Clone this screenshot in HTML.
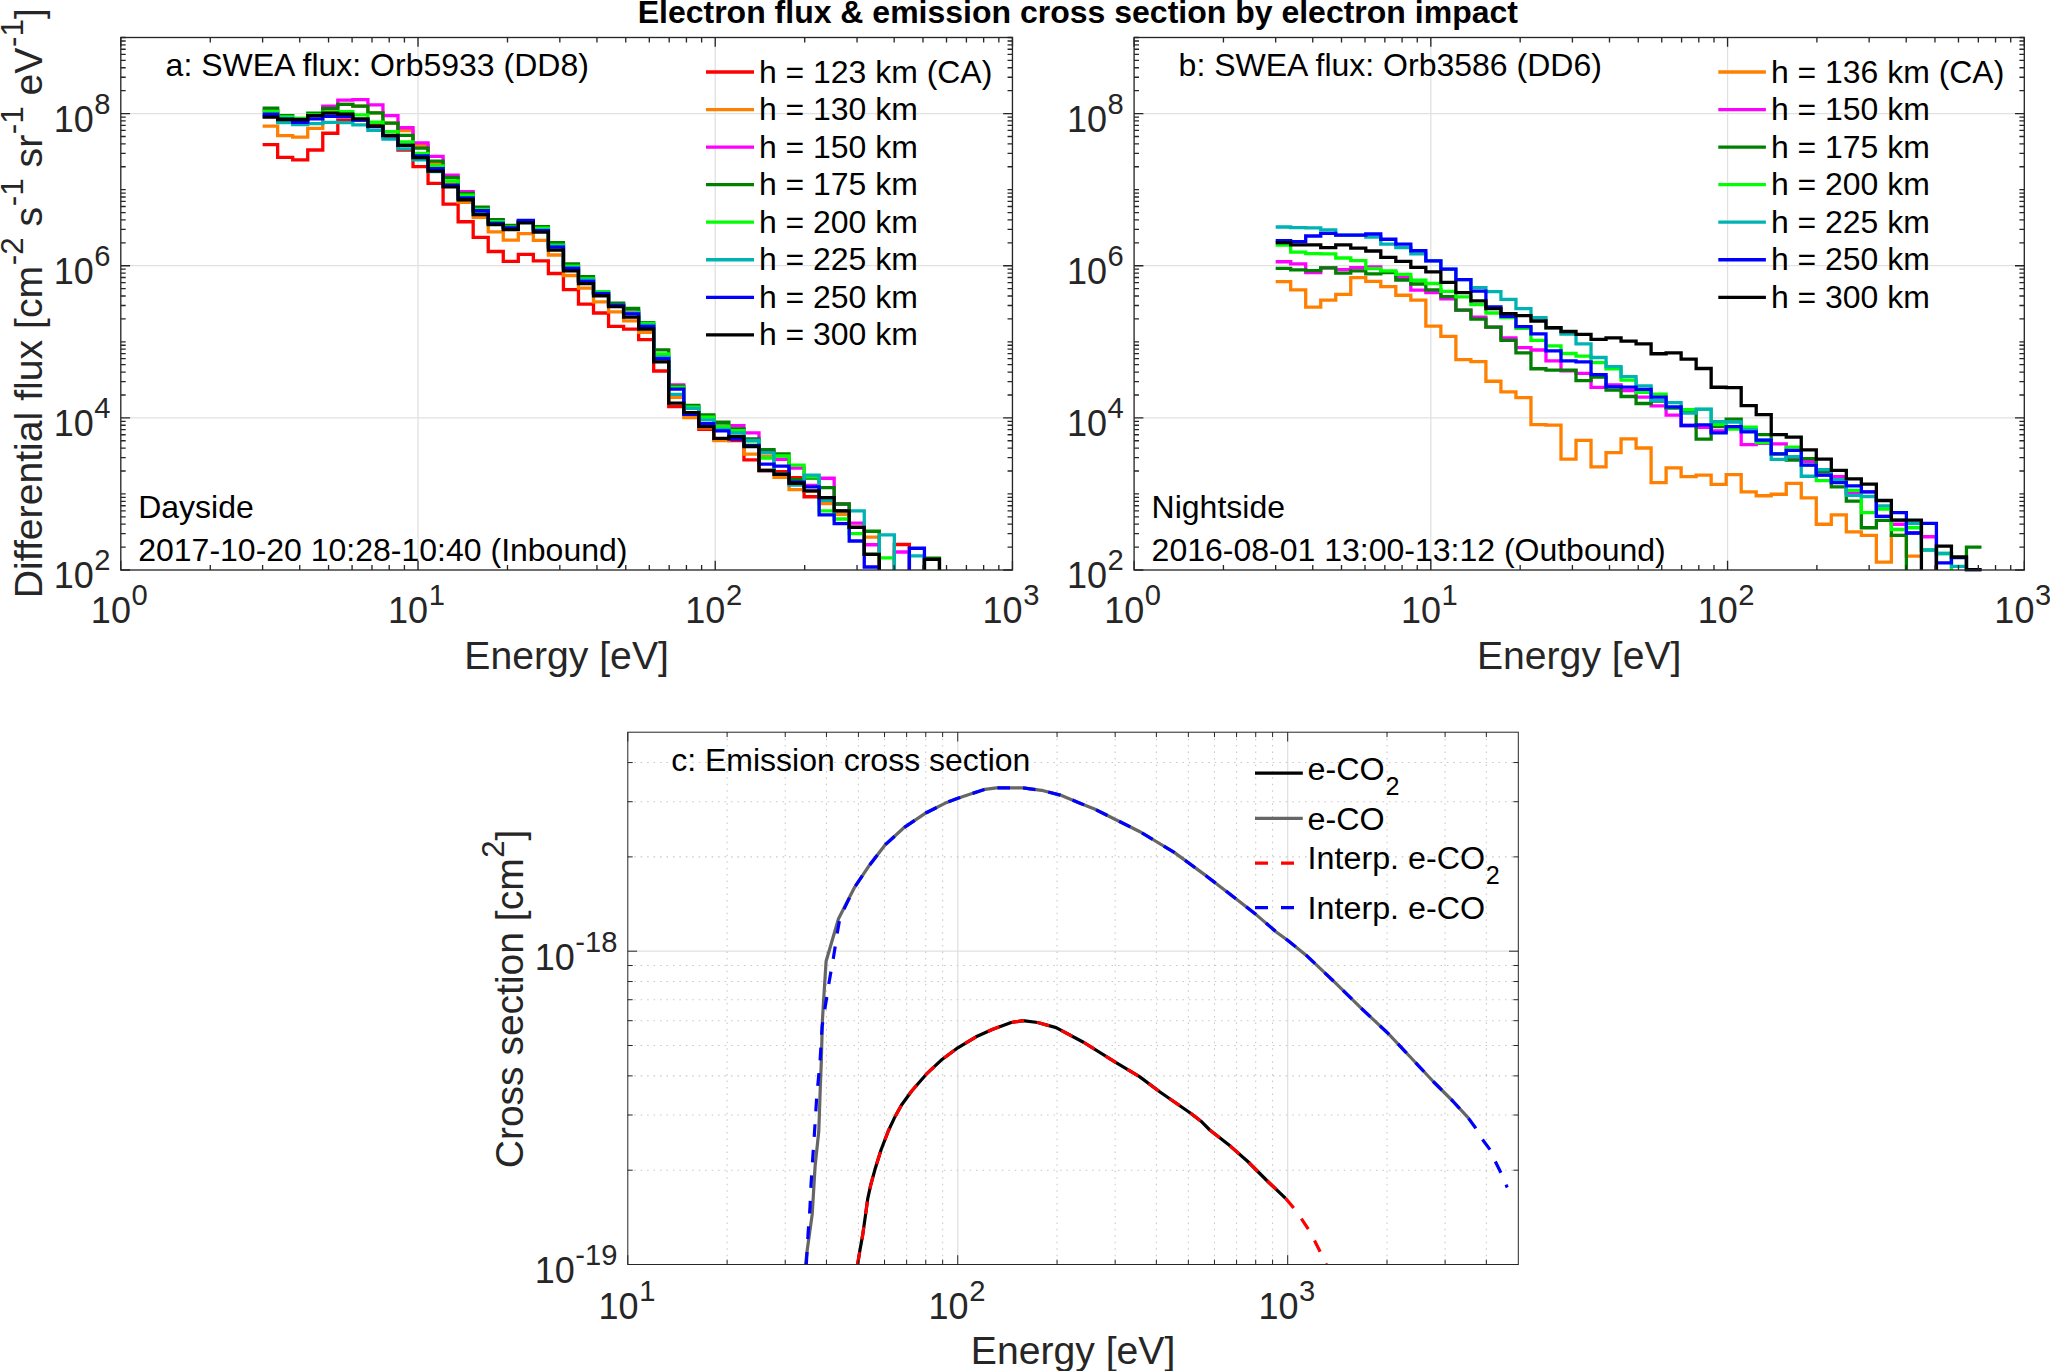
<!DOCTYPE html>
<html lang="en"><head><meta charset="utf-8"><title>Electron flux &amp; emission cross section by electron impact</title>
<style>html,body{margin:0;padding:0;background:#fff;overflow:hidden}svg{display:block;font-family:'Liberation Sans', Arial, Helvetica, sans-serif}</style></head><body>
<svg width="2050" height="1371" viewBox="0 0 2050 1371">
<rect width="2050" height="1371" fill="#fff"/>
<defs>
<clipPath id="clipA"><rect x="120.8" y="37.5" width="891.65" height="533"/></clipPath>
<clipPath id="clipB"><rect x="1134.1" y="37.5" width="890.2" height="533"/></clipPath>
<clipPath id="clipC"><rect x="627.8" y="732.2" width="890.5" height="532.8"/></clipPath>
</defs>
<text x="1077.8" y="22.6" font-size="32" text-anchor="middle" fill="#000" font-weight="bold">Electron flux &amp; emission cross section by electron impact</text>
<path d="M418.02 37.5V570M715.23 37.5V570M120.8 417.86H1012.45M120.8 265.71H1012.45M120.8 113.57H1012.45" stroke="#e1e1e1" stroke-width="1.3" fill="none"/>
<path d="M262.61 144.71H277.65V157.35H292.69V159.93H307.73V149.98H322.77V133.23H337.81V120.12H352.86V120.12H367.9V124.8H382.94V136.51H397.98V149.98H413.02V166.72H428.06V183.34H443.1V204.18H458.14V221.74H473.18V237.46H488.23V251.51H503.27V261.46H518.31V254.44H533.35V260.88H548.39V273.52H563.43V289.56H578.47V304.2H593.51V312.98H608.56V326.44H623.6V329.13H638.64V339.55H653.68V370.98H668.72V406.68H683.76V414.29H698.8V429.28H713.84V439.46H728.88V440.63H743.93V459.95H758.97V470.49H774.01V471.56H789.05V477.77H804.09V496.73H819.13V497.67H834.17V510.78H849.21V527.4H864.26V554.33H879.3V570M894.34 570V544.5H909.38V570" stroke="#ff0000" stroke-width="3.3" fill="none" stroke-linejoin="miter"/>
<path d="M262.61 126.21H277.65V135.58H292.69V137.1H307.73V128.32H322.77V110.17H337.81V104.32H352.86V106.07H367.9V112.86H382.94V123.05H397.98V130.66H413.02V145.64H428.06V163.67H443.1V183.93H458.14V202.42H473.18V217.33H488.23V231.84H503.27V240.04H518.31V233.72H533.35V240.39H548.39V255.02H563.43V275.51H578.47V288.04H593.51V301.85H608.56V311.8H623.6V320.94H638.64V332.29H653.68V361.02H668.72V397.32H683.76V417.57H698.8V427.76H713.84V440.63H728.88V438.29H743.93V454.1H758.97V456.44H774.01V477.41H789.05V489.71H804.09V491.46H819.13V503.52H834.17V514.29H849.21V527.4H864.26V537.12H879.3V570" stroke="#ff8000" stroke-width="3.3" fill="none" stroke-linejoin="miter"/>
<path d="M262.61 110.17H277.65V120.12H292.69V121.29H307.73V115.44H322.77V106.07H337.81V100.22H352.86V99.63H367.9V104.9H382.94V115.67H397.98V127.73H413.02V142.95H428.06V156.41H443.1V175.15H458.14V191.54H473.18V208.78H488.23V221.07H503.27V226.69H518.31V221.66H533.35V228.1H548.39V244.49H563.43V265.56H578.47V279.61H593.51V292.49H608.56V304.2H623.6V311.22H638.64V324.1H653.68V356.34H668.72V384.79H683.76V406.68H698.8V416.63H713.84V425.41H728.88V425.77H743.93V432.79H758.97V451.76H774.01V459.27H789.05V468.05H804.09V485.49H819.13V478.23H834.17V503.99H849.21V523.07H864.26V544.73H879.3V570M894.34 570V551.99H909.38V570" stroke="#ff00ff" stroke-width="3.3" fill="none" stroke-linejoin="miter"/>
<path d="M262.61 108.18H277.65V115.67H292.69V118.37H307.73V113.1H322.77V108.41H337.81V104.32H352.86V106.07H367.9V112.86H382.94V123.05H397.98V135.34H413.02V148.22H428.06V161.1H443.1V177.49H458.14V193.29H473.18V207.26H488.23V219.67H503.27V225.52H518.31V221.66H533.35V226.69H548.39V242.73H563.43V263.8H578.47V276.68H593.51V292.49H608.56V303.26H623.6V308.29H638.64V322.69H653.68V349.9H668.72V386.2H683.76V405.51H698.8V414.88H713.84V422.25H728.88V428.93H743.93V438.88H758.97V449.65H774.01V454H789.05V479.76H804.09V478H819.13V487.6H834.17V503.99H849.21V527.4H864.26V531.27H879.3V570M924.42 570V558.2H939.46V570" stroke="#008000" stroke-width="3.3" fill="none" stroke-linejoin="miter"/>
<path d="M262.61 111.34H277.65V116.84H292.69V118.95H307.73V114.85H322.77V112.16H337.81V111.69H352.86V114.85H367.9V122.23H382.94V131.6H397.98V142.01H413.02V153.49H428.06V165.78H443.1V181H458.14V195.05H473.18V209.37H488.23V221.66H503.27V227.16H518.31V222.01H533.35V228.1H548.39V245.07H563.43V266.15H578.47V279.02H593.51V291.55H608.56V304.78H623.6V312.39H638.64V323.51H653.68V354H668.72V387.37H683.76V407.27H698.8V417.22H713.84V426.23H728.88V430.68H743.93V441.22H758.97V458.2H774.01V455.99H789.05V465.12H804.09V476.83H819.13V510.78H834.17V518.98H849.21V533.61H864.26V554.33H879.3V557.84H894.34V570" stroke="#00ff00" stroke-width="3.3" fill="none" stroke-linejoin="miter"/>
<path d="M262.61 116.02H277.65V122.7H292.69V124.57H307.73V123.63H322.77V122.46H337.81V122.7H352.86V124.8H367.9V130.42H382.94V139.09H397.98V148.8H413.02V159.93H428.06V171.63H443.1V185.92H458.14V198.8H473.18V211.71H488.23V222.83H503.27V227.63H518.31V221.31H533.35V229.85H548.39V246.24H563.43V267.32H578.47V279.84H593.51V293.07H608.56V305.37H623.6V313.33H638.64V325.27H653.68V357.51H668.72V394.39H683.76V408.44H698.8V419.91H713.84V429.51H728.88V433.02H743.93V440.28H758.97V452.93H774.01V473.9H789.05V485.02H804.09V475.07H819.13V500.24H834.17V510.78H849.21V510.78H864.26V554.33H879.3V534.78H894.34V570M909.38 570V555.85H924.42V570" stroke="#00b3b3" stroke-width="3.3" fill="none" stroke-linejoin="miter"/>
<path d="M262.61 114.27H277.65V118.95H292.69V122.23H307.73V118.95H322.77V116.38H337.81V116.61H352.86V120.12H367.9V126.56H382.94V135.58H397.98V145.29H413.02V155.83H428.06V168.71H443.1V185.1H458.14V197.98H473.18V210.77H488.23V223.41H503.27V227.86H518.31V220.49H533.35V230.67H548.39V247.06H563.43V268.49H578.47V281.37H593.51V293.66H608.56V305.13H623.6V313.8H638.64V326.44H653.68V358.68H668.72V389.12H683.76V414.29H698.8V423.66H713.84V430.92H728.88V439.11H743.93V445.32H758.97V464.05H774.01V466.06H789.05V482.1H804.09V486.78H819.13V514.88H834.17V523.66H849.21V540.99H864.26V566.98H879.3V570M909.38 570V548.24H924.42V570" stroke="#0000ff" stroke-width="3.3" fill="none" stroke-linejoin="miter"/>
<path d="M262.61 117.2H277.65V119.54H292.69V119.54H307.73V115.67H322.77V113.1H337.81V114.03H352.86V118.95H367.9V126.21H382.94V135.34H397.98V145.29H413.02V157.59H428.06V171.05H443.1V186.85H458.14V199.73H473.18V214.63H488.23V224.59H503.27V229.5H518.31V222.83H533.35V232.2H548.39V250.11H563.43V270.83H578.47V283.71H593.51V295.77H608.56V306.54H623.6V317.07H638.64V329.01H653.68V361.84H668.72V403.17H683.76V412.54H698.8V426.59H713.84V438.29H728.88V436.54H743.93V446.49H758.97V470.49H774.01V474.25H789.05V483.27H804.09V490.88H819.13V497.67H834.17V510.78H849.21V527.4H864.26V554.33H879.3V570M924.42 570V559.37H939.46V570" stroke="#000000" stroke-width="3.3" fill="none" stroke-linejoin="miter"/>
<path d="M210.27 570v-4.9M210.27 37.5v4.9M262.61 570v-4.9M262.61 37.5v4.9M299.74 570v-4.9M299.74 37.5v4.9M328.55 570v-4.9M328.55 37.5v4.9M352.08 570v-4.9M352.08 37.5v4.9M371.98 570v-4.9M371.98 37.5v4.9M389.21 570v-4.9M389.21 37.5v4.9M404.42 570v-4.9M404.42 37.5v4.9M507.49 570v-4.9M507.49 37.5v4.9M559.83 570v-4.9M559.83 37.5v4.9M596.96 570v-4.9M596.96 37.5v4.9M625.76 570v-4.9M625.76 37.5v4.9M649.3 570v-4.9M649.3 37.5v4.9M669.19 570v-4.9M669.19 37.5v4.9M686.43 570v-4.9M686.43 37.5v4.9M701.63 570v-4.9M701.63 37.5v4.9M804.7 570v-4.9M804.7 37.5v4.9M857.04 570v-4.9M857.04 37.5v4.9M894.18 570v-4.9M894.18 37.5v4.9M922.98 570v-4.9M922.98 37.5v4.9M946.51 570v-4.9M946.51 37.5v4.9M966.41 570v-4.9M966.41 37.5v4.9M983.65 570v-4.9M983.65 37.5v4.9M998.85 570v-4.9M998.85 37.5v4.9M120.8 547.1h4.9M1012.45 547.1h-4.9M120.8 533.7h4.9M1012.45 533.7h-4.9M120.8 524.2h4.9M1012.45 524.2h-4.9M120.8 516.83h4.9M1012.45 516.83h-4.9M120.8 510.8h4.9M1012.45 510.8h-4.9M120.8 505.71h4.9M1012.45 505.71h-4.9M120.8 501.3h4.9M1012.45 501.3h-4.9M120.8 497.41h4.9M1012.45 497.41h-4.9M120.8 471.03h4.9M1012.45 471.03h-4.9M120.8 457.63h4.9M1012.45 457.63h-4.9M120.8 448.13h4.9M1012.45 448.13h-4.9M120.8 440.76h4.9M1012.45 440.76h-4.9M120.8 434.73h4.9M1012.45 434.73h-4.9M120.8 429.64h4.9M1012.45 429.64h-4.9M120.8 425.23h4.9M1012.45 425.23h-4.9M120.8 421.34h4.9M1012.45 421.34h-4.9M120.8 394.96h4.9M1012.45 394.96h-4.9M120.8 381.56h4.9M1012.45 381.56h-4.9M120.8 372.06h4.9M1012.45 372.06h-4.9M120.8 364.69h4.9M1012.45 364.69h-4.9M120.8 358.66h4.9M1012.45 358.66h-4.9M120.8 353.57h4.9M1012.45 353.57h-4.9M120.8 349.16h4.9M1012.45 349.16h-4.9M120.8 345.27h4.9M1012.45 345.27h-4.9M120.8 318.89h4.9M1012.45 318.89h-4.9M120.8 305.49h4.9M1012.45 305.49h-4.9M120.8 295.99h4.9M1012.45 295.99h-4.9M120.8 288.61h4.9M1012.45 288.61h-4.9M120.8 282.59h4.9M1012.45 282.59h-4.9M120.8 277.5h4.9M1012.45 277.5h-4.9M120.8 273.09h4.9M1012.45 273.09h-4.9M120.8 269.2h4.9M1012.45 269.2h-4.9M120.8 242.81h4.9M1012.45 242.81h-4.9M120.8 229.42h4.9M1012.45 229.42h-4.9M120.8 219.91h4.9M1012.45 219.91h-4.9M120.8 212.54h4.9M1012.45 212.54h-4.9M120.8 206.52h4.9M1012.45 206.52h-4.9M120.8 201.43h4.9M1012.45 201.43h-4.9M120.8 197.01h4.9M1012.45 197.01h-4.9M120.8 193.12h4.9M1012.45 193.12h-4.9M120.8 166.74h4.9M1012.45 166.74h-4.9M120.8 153.35h4.9M1012.45 153.35h-4.9M120.8 143.84h4.9M1012.45 143.84h-4.9M120.8 136.47h4.9M1012.45 136.47h-4.9M120.8 130.45h4.9M1012.45 130.45h-4.9M120.8 125.36h4.9M1012.45 125.36h-4.9M120.8 120.94h4.9M1012.45 120.94h-4.9M120.8 117.05h4.9M1012.45 117.05h-4.9M120.8 90.67h4.9M1012.45 90.67h-4.9M120.8 77.28h4.9M1012.45 77.28h-4.9M120.8 67.77h4.9M1012.45 67.77h-4.9M120.8 60.4h4.9M1012.45 60.4h-4.9M120.8 54.38h4.9M1012.45 54.38h-4.9M120.8 49.28h4.9M1012.45 49.28h-4.9M120.8 44.87h4.9M1012.45 44.87h-4.9M120.8 40.98h4.9M1012.45 40.98h-4.9M120.8 493.93h4.9M1012.45 493.93h-4.9M120.8 341.79h4.9M1012.45 341.79h-4.9M120.8 189.64h4.9M1012.45 189.64h-4.9M120.8 37.5h4.9M1012.45 37.5h-4.9" stroke="#262626" stroke-width="1.33" fill="none"/>
<path d="M120.8 570v-9.3M120.8 37.5v9.3M418.02 570v-9.3M418.02 37.5v9.3M715.23 570v-9.3M715.23 37.5v9.3M1012.45 570v-9.3M1012.45 37.5v9.3M120.8 570h9.3M1012.45 570h-9.3M120.8 417.86h9.3M1012.45 417.86h-9.3M120.8 265.71h9.3M1012.45 265.71h-9.3M120.8 113.57h9.3M1012.45 113.57h-9.3" stroke="#262626" stroke-width="1.33" fill="none"/>
<rect x="120.8" y="37.5" width="891.65" height="532.5" stroke="#262626" stroke-width="1.33" fill="none"/>
<text x="119.3" y="623.2" font-size="36" text-anchor="middle" fill="#262626">10<tspan font-size="29.16" dx="0.6" dy="-18">0</tspan></text>
<text x="416.52" y="623.2" font-size="36" text-anchor="middle" fill="#262626">10<tspan font-size="29.16" dx="0.6" dy="-18">1</tspan></text>
<text x="713.73" y="623.2" font-size="36" text-anchor="middle" fill="#262626">10<tspan font-size="29.16" dx="0.6" dy="-18">2</tspan></text>
<text x="1010.95" y="623.2" font-size="36" text-anchor="middle" fill="#262626">10<tspan font-size="29.16" dx="0.6" dy="-18">3</tspan></text>
<text x="110.5" y="588.4" font-size="36" text-anchor="end" fill="#262626">10<tspan font-size="29.16" dx="0.6" dy="-18">2</tspan></text>
<text x="110.5" y="436.26" font-size="36" text-anchor="end" fill="#262626">10<tspan font-size="29.16" dx="0.6" dy="-18">4</tspan></text>
<text x="110.5" y="284.11" font-size="36" text-anchor="end" fill="#262626">10<tspan font-size="29.16" dx="0.6" dy="-18">6</tspan></text>
<text x="110.5" y="131.97" font-size="36" text-anchor="end" fill="#262626">10<tspan font-size="29.16" dx="0.6" dy="-18">8</tspan></text>
<text x="566.62" y="668.5" font-size="39.15" text-anchor="middle" fill="#262626">Energy [eV]</text>
<path d="M1430.83 37.5V570M1727.57 37.5V570M1134.1 417.86H2024.3M1134.1 265.71H2024.3M1134.1 113.57H2024.3" stroke="#e1e1e1" stroke-width="1.3" fill="none"/>
<path d="M1275.68 281.65H1290.69V289.84H1305.71V307.17H1320.73V300.15H1335.74V294.29H1350.76V277.67H1365.78V281.41H1380.79V286.68H1395.81V295.23H1410.83V300.15H1425.84V326.14H1440.86V336.44H1455.88V359.62H1470.9V361.72H1485.91V381.27H1500.93V391.8H1515.95V397.66H1530.96V424.59H1545.98V425.17H1561V459.12H1576.01V440.39H1591.03V466.97H1606.05V452.68H1621.06V438.87H1636.08V448H1651.1V482.54H1666.11V467.9H1681.13V476.68H1696.15V475.16H1711.16V484.29H1726.18V474.68H1741.2V491.89H1756.21V495.76H1771.23V494.23H1786.25V483.46H1801.26V497.9H1816.28V524.24H1831.3V514.88H1846.31V531.85H1861.33V535.37H1876.35V562.06H1891.36V535.37H1906.38V556.2H1921.4V556.2" stroke="#ff8000" stroke-width="3.3" fill="none" stroke-linejoin="miter"/>
<path d="M1275.68 261.75H1290.69V263.85H1305.71V272.63H1320.73V267.95H1335.74V269.71H1350.76V267.6H1365.78V266.78H1380.79V272.05H1395.81V277.67H1410.83V290.2H1425.84V292.54H1440.86V298.74H1455.88V310.1H1470.9V317.23H1485.91V327.06H1500.93V337.95H1515.95V347.67H1530.96V350.01H1545.98V360.78H1561V370.73H1576.01V373.42H1591.03V387.47H1606.05V384.78H1621.06V390.63H1636.08V397.07H1651.1V405.85H1666.11V415.22H1681.13V425.51H1696.15V427.27H1711.16V431.01H1726.18V426.68H1741.2V444.6H1756.21V443.42H1771.23V443.89H1786.25V458.29H1801.26V461.38H1816.28V475.07H1831.3V476.6H1846.31V492.99H1861.33V491.81H1876.35V516.4H1891.36V524.24H1906.38V533.02H1921.4V536.77H1936.41V570" stroke="#ff00ff" stroke-width="3.3" fill="none" stroke-linejoin="miter"/>
<path d="M1275.68 268.3H1290.69V269.94H1305.71V270.64H1320.73V267.95H1335.74V273.22H1350.76V270.88H1365.78V273.8H1380.79V272.63H1395.81V280.01H1410.83V283.99H1425.84V289.84H1440.86V296.63H1455.88V310.1H1470.9V319.22H1485.91V327.06H1500.93V340.29H1515.95V352.82H1530.96V368.74H1545.98V370.15H1561V370.15H1576.01V380.68H1591.03V377.17H1606.05V390.05H1621.06V396.49H1636.08V403.51H1651.1V401.17H1666.11V408.2H1681.13V412.05H1696.15V439.21H1711.16V426.68H1726.18V419.07H1741.2V429.61H1756.21V434.53H1771.23V453.96H1786.25V460.05H1801.26V458.68H1816.28V471.56H1831.3V486.78H1846.31V501.18H1861.33V527.76H1876.35V520.38H1891.36V535.37H1906.38V570M1966.45 570V547.07H1981.46V547.07" stroke="#008000" stroke-width="3.3" fill="none" stroke-linejoin="miter"/>
<path d="M1275.68 245.12H1290.69V252.15H1305.71V253.55H1320.73V253.9H1335.74V258H1350.76V260.58H1365.78V268.54H1380.79V270.88H1395.81V274.39H1410.83V280.24H1425.84V283.52H1440.86V291.37H1455.88V296.87H1470.9V304.59H1485.91V313.01H1500.93V317.7H1515.95V328.23H1530.96V340.29H1545.98V345.8H1561V353.52H1576.01V356.1H1591.03V362.54H1606.05V368.74H1621.06V380.1H1636.08V392.39H1651.1V394.15H1666.11V407.61H1681.13V409.71H1696.15V409.47H1711.16V424.34H1726.18V429.02H1741.2V427.27H1756.21V442.49H1771.23V453.96H1786.25V447.17H1801.26V465.12H1816.28V480.58H1831.3V481.51H1846.31V490.29H1861.33V512.54H1876.35V509.02H1891.36V529.51H1906.38V527.76H1921.4V550H1936.41V553.51H1951.43V570" stroke="#00ff00" stroke-width="3.3" fill="none" stroke-linejoin="miter"/>
<path d="M1275.68 226.98H1290.69V227.56H1305.71V227.8H1320.73V229.9H1335.74V235.17H1350.76V235.17H1365.78V237.16H1380.79V244.19H1395.81V247.7H1410.83V253.9H1425.84V260.93H1440.86V269.12H1455.88V279.66H1470.9V287.61H1485.91V291.71H1500.93V299.32H1515.95V308.68H1530.96V317.7H1545.98V327.77H1561V334.09H1576.01V343.8H1591.03V357.5H1606.05V366.63H1621.06V376.59H1636.08V385.95H1651.1V400.59H1666.11V402.69H1681.13V413.22H1696.15V409.12H1711.16V421.65H1726.18V422H1741.2V429.61H1756.21V440.15H1771.23V459.46H1786.25V456.54H1801.26V476.24H1816.28V469.57H1831.3V479.76H1846.31V495.33H1861.33V496.5H1876.35V505.86H1891.36V520.15H1906.38V523.42H1921.4V550H1936.41V553.51H1951.43V566.39H1966.45V570" stroke="#00b3b3" stroke-width="3.3" fill="none" stroke-linejoin="miter"/>
<path d="M1275.68 240.67H1290.69V241.61H1305.71V235.99H1320.73V233.41H1335.74V235.17H1350.76V235.17H1365.78V234H1380.79V239.27H1395.81V244.19H1410.83V250.74H1425.84V260.93H1440.86V269.12H1455.88V279.66H1470.9V291.12H1485.91V306.93H1500.93V316.29H1515.95V326.6H1530.96V333.85H1545.98V350.83H1561V360.78H1576.01V361.95H1591.03V374.6H1606.05V386.77H1621.06V387.12H1636.08V389.46H1651.1V397.07H1666.11V407.02H1681.13V425.51H1696.15V424.93H1711.16V432.89H1726.18V426.68H1741.2V431.95H1756.21V440.15H1771.23V453.96H1786.25V450.45H1801.26V465.12H1816.28V475.07H1831.3V482.68H1846.31V485.96H1861.33V491.81H1876.35V516.4H1891.36V512.54H1906.38V533.02H1921.4V523.42H1936.41V562.88H1951.43V557.61H1966.45V569.55H1981.46V569.55" stroke="#0000ff" stroke-width="3.3" fill="none" stroke-linejoin="miter"/>
<path d="M1275.68 242.55H1290.69V244.89H1305.71V244.89H1320.73V247.7H1335.74V244.89H1350.76V248.05H1365.78V250.98H1380.79V257.41H1395.81V261.28H1410.83V267.37H1425.84V271.81H1440.86V282.35H1455.88V292.54H1470.9V300.84H1485.91V308.68H1500.93V313.72H1515.95V315.71H1530.96V320.98H1545.98V327.77H1561V331.51H1576.01V334.44H1591.03V339.47H1606.05V337.95H1621.06V341.11H1636.08V343.8H1651.1V353.76H1666.11V352.82H1681.13V359.13H1696.15V368.5H1711.16V387.23H1726.18V387.7H1741.2V405.61H1756.21V414.62H1771.23V434.53H1786.25V437.22H1801.26V449.9H1816.28V459.03H1831.3V470.39H1846.31V478.94H1861.33V484.09H1876.35V500.48H1891.36V520.15H1906.38V520.15H1921.4V570M1936.41 570V546.14H1951.43V557.02H1966.45V569.55H1981.46V569.55" stroke="#000000" stroke-width="3.3" fill="none" stroke-linejoin="miter"/>
<path d="M1223.43 570v-4.9M1223.43 37.5v4.9M1275.68 570v-4.9M1275.68 37.5v4.9M1312.75 570v-4.9M1312.75 37.5v4.9M1341.51 570v-4.9M1341.51 37.5v4.9M1365 570v-4.9M1365 37.5v4.9M1384.87 570v-4.9M1384.87 37.5v4.9M1402.08 570v-4.9M1402.08 37.5v4.9M1417.26 570v-4.9M1417.26 37.5v4.9M1520.16 570v-4.9M1520.16 37.5v4.9M1572.41 570v-4.9M1572.41 37.5v4.9M1609.48 570v-4.9M1609.48 37.5v4.9M1638.24 570v-4.9M1638.24 37.5v4.9M1661.74 570v-4.9M1661.74 37.5v4.9M1681.6 570v-4.9M1681.6 37.5v4.9M1698.81 570v-4.9M1698.81 37.5v4.9M1713.99 570v-4.9M1713.99 37.5v4.9M1816.89 570v-4.9M1816.89 37.5v4.9M1869.14 570v-4.9M1869.14 37.5v4.9M1906.22 570v-4.9M1906.22 37.5v4.9M1934.97 570v-4.9M1934.97 37.5v4.9M1958.47 570v-4.9M1958.47 37.5v4.9M1978.34 570v-4.9M1978.34 37.5v4.9M1995.54 570v-4.9M1995.54 37.5v4.9M2010.72 570v-4.9M2010.72 37.5v4.9M1134.1 547.1h4.9M2024.3 547.1h-4.9M1134.1 533.7h4.9M2024.3 533.7h-4.9M1134.1 524.2h4.9M2024.3 524.2h-4.9M1134.1 516.83h4.9M2024.3 516.83h-4.9M1134.1 510.8h4.9M2024.3 510.8h-4.9M1134.1 505.71h4.9M2024.3 505.71h-4.9M1134.1 501.3h4.9M2024.3 501.3h-4.9M1134.1 497.41h4.9M2024.3 497.41h-4.9M1134.1 471.03h4.9M2024.3 471.03h-4.9M1134.1 457.63h4.9M2024.3 457.63h-4.9M1134.1 448.13h4.9M2024.3 448.13h-4.9M1134.1 440.76h4.9M2024.3 440.76h-4.9M1134.1 434.73h4.9M2024.3 434.73h-4.9M1134.1 429.64h4.9M2024.3 429.64h-4.9M1134.1 425.23h4.9M2024.3 425.23h-4.9M1134.1 421.34h4.9M2024.3 421.34h-4.9M1134.1 394.96h4.9M2024.3 394.96h-4.9M1134.1 381.56h4.9M2024.3 381.56h-4.9M1134.1 372.06h4.9M2024.3 372.06h-4.9M1134.1 364.69h4.9M2024.3 364.69h-4.9M1134.1 358.66h4.9M2024.3 358.66h-4.9M1134.1 353.57h4.9M2024.3 353.57h-4.9M1134.1 349.16h4.9M2024.3 349.16h-4.9M1134.1 345.27h4.9M2024.3 345.27h-4.9M1134.1 318.89h4.9M2024.3 318.89h-4.9M1134.1 305.49h4.9M2024.3 305.49h-4.9M1134.1 295.99h4.9M2024.3 295.99h-4.9M1134.1 288.61h4.9M2024.3 288.61h-4.9M1134.1 282.59h4.9M2024.3 282.59h-4.9M1134.1 277.5h4.9M2024.3 277.5h-4.9M1134.1 273.09h4.9M2024.3 273.09h-4.9M1134.1 269.2h4.9M2024.3 269.2h-4.9M1134.1 242.81h4.9M2024.3 242.81h-4.9M1134.1 229.42h4.9M2024.3 229.42h-4.9M1134.1 219.91h4.9M2024.3 219.91h-4.9M1134.1 212.54h4.9M2024.3 212.54h-4.9M1134.1 206.52h4.9M2024.3 206.52h-4.9M1134.1 201.43h4.9M2024.3 201.43h-4.9M1134.1 197.01h4.9M2024.3 197.01h-4.9M1134.1 193.12h4.9M2024.3 193.12h-4.9M1134.1 166.74h4.9M2024.3 166.74h-4.9M1134.1 153.35h4.9M2024.3 153.35h-4.9M1134.1 143.84h4.9M2024.3 143.84h-4.9M1134.1 136.47h4.9M2024.3 136.47h-4.9M1134.1 130.45h4.9M2024.3 130.45h-4.9M1134.1 125.36h4.9M2024.3 125.36h-4.9M1134.1 120.94h4.9M2024.3 120.94h-4.9M1134.1 117.05h4.9M2024.3 117.05h-4.9M1134.1 90.67h4.9M2024.3 90.67h-4.9M1134.1 77.28h4.9M2024.3 77.28h-4.9M1134.1 67.77h4.9M2024.3 67.77h-4.9M1134.1 60.4h4.9M2024.3 60.4h-4.9M1134.1 54.38h4.9M2024.3 54.38h-4.9M1134.1 49.28h4.9M2024.3 49.28h-4.9M1134.1 44.87h4.9M2024.3 44.87h-4.9M1134.1 40.98h4.9M2024.3 40.98h-4.9M1134.1 493.93h4.9M2024.3 493.93h-4.9M1134.1 341.79h4.9M2024.3 341.79h-4.9M1134.1 189.64h4.9M2024.3 189.64h-4.9M1134.1 37.5h4.9M2024.3 37.5h-4.9" stroke="#262626" stroke-width="1.33" fill="none"/>
<path d="M1134.1 570v-9.3M1134.1 37.5v9.3M1430.83 570v-9.3M1430.83 37.5v9.3M1727.57 570v-9.3M1727.57 37.5v9.3M2024.3 570v-9.3M2024.3 37.5v9.3M1134.1 570h9.3M2024.3 570h-9.3M1134.1 417.86h9.3M2024.3 417.86h-9.3M1134.1 265.71h9.3M2024.3 265.71h-9.3M1134.1 113.57h9.3M2024.3 113.57h-9.3" stroke="#262626" stroke-width="1.33" fill="none"/>
<rect x="1134.1" y="37.5" width="890.2" height="532.5" stroke="#262626" stroke-width="1.33" fill="none"/>
<text x="1132.6" y="623.2" font-size="36" text-anchor="middle" fill="#262626">10<tspan font-size="29.16" dx="0.6" dy="-18">0</tspan></text>
<text x="1429.33" y="623.2" font-size="36" text-anchor="middle" fill="#262626">10<tspan font-size="29.16" dx="0.6" dy="-18">1</tspan></text>
<text x="1726.07" y="623.2" font-size="36" text-anchor="middle" fill="#262626">10<tspan font-size="29.16" dx="0.6" dy="-18">2</tspan></text>
<text x="2022.8" y="623.2" font-size="36" text-anchor="middle" fill="#262626">10<tspan font-size="29.16" dx="0.6" dy="-18">3</tspan></text>
<text x="1123.8" y="588.4" font-size="36" text-anchor="end" fill="#262626">10<tspan font-size="29.16" dx="0.6" dy="-18">2</tspan></text>
<text x="1123.8" y="436.26" font-size="36" text-anchor="end" fill="#262626">10<tspan font-size="29.16" dx="0.6" dy="-18">4</tspan></text>
<text x="1123.8" y="284.11" font-size="36" text-anchor="end" fill="#262626">10<tspan font-size="29.16" dx="0.6" dy="-18">6</tspan></text>
<text x="1123.8" y="131.97" font-size="36" text-anchor="end" fill="#262626">10<tspan font-size="29.16" dx="0.6" dy="-18">8</tspan></text>
<text x="1579.2" y="668.5" font-size="39.15" text-anchor="middle" fill="#262626">Energy [eV]</text>
<text transform="translate(42.2 303.2) rotate(-90)" font-size="39.2" text-anchor="middle" fill="#262626">Differential flux [cm<tspan font-size="31.36" dx="0.6" dy="-19.7">-2</tspan><tspan dy="19.7"> s</tspan><tspan font-size="31.36" dx="0.6" dy="-19.7">-1</tspan><tspan dy="19.7"> sr</tspan><tspan font-size="31.36" dx="0.6" dy="-19.7">-1</tspan><tspan dy="19.7"> eV</tspan><tspan font-size="31.36" dx="0.6" dy="-19.7">-1</tspan><tspan dy="19.7">]</tspan></text>
<text x="165.6" y="75.6" font-size="32" text-anchor="start" fill="#000">a: SWEA flux: Orb5933 (DD8)</text>
<text x="138.2" y="518.4" font-size="32" text-anchor="start" fill="#000">Dayside</text>
<text x="138.2" y="560.5" font-size="32" text-anchor="start" fill="#000">2017-10-20 10:28-10:40 (Inbound)</text>
<text x="1178.6" y="75.6" font-size="32" text-anchor="start" fill="#000">b: SWEA flux: Orb3586 (DD6)</text>
<text x="1151.6" y="518.4" font-size="32" text-anchor="start" fill="#000">Nightside</text>
<text x="1151.6" y="560.5" font-size="32" text-anchor="start" fill="#000">2016-08-01 13:00-13:12 (Outbound)</text>
<path d="M706 72H754" stroke="#ff0000" stroke-width="3.3" fill="none"/>
<text x="758.9" y="82.6" font-size="31.95" text-anchor="start" fill="#000">h = 123 km (CA)</text>
<path d="M706 109.55H754" stroke="#ff8000" stroke-width="3.3" fill="none"/>
<text x="758.9" y="120.15" font-size="31.95" text-anchor="start" fill="#000">h = 130 km</text>
<path d="M706 147.1H754" stroke="#ff00ff" stroke-width="3.3" fill="none"/>
<text x="758.9" y="157.7" font-size="31.95" text-anchor="start" fill="#000">h = 150 km</text>
<path d="M706 184.65H754" stroke="#008000" stroke-width="3.3" fill="none"/>
<text x="758.9" y="195.25" font-size="31.95" text-anchor="start" fill="#000">h = 175 km</text>
<path d="M706 222.2H754" stroke="#00ff00" stroke-width="3.3" fill="none"/>
<text x="758.9" y="232.8" font-size="31.95" text-anchor="start" fill="#000">h = 200 km</text>
<path d="M706 259.75H754" stroke="#00b3b3" stroke-width="3.3" fill="none"/>
<text x="758.9" y="270.35" font-size="31.95" text-anchor="start" fill="#000">h = 225 km</text>
<path d="M706 297.3H754" stroke="#0000ff" stroke-width="3.3" fill="none"/>
<text x="758.9" y="307.9" font-size="31.95" text-anchor="start" fill="#000">h = 250 km</text>
<path d="M706 334.85H754" stroke="#000000" stroke-width="3.3" fill="none"/>
<text x="758.9" y="345.45" font-size="31.95" text-anchor="start" fill="#000">h = 300 km</text>
<path d="M1718.3 72H1765.9" stroke="#ff8000" stroke-width="3.3" fill="none"/>
<text x="1770.9" y="82.6" font-size="31.95" text-anchor="start" fill="#000">h = 136 km (CA)</text>
<path d="M1718.3 109.55H1765.9" stroke="#ff00ff" stroke-width="3.3" fill="none"/>
<text x="1770.9" y="120.15" font-size="31.95" text-anchor="start" fill="#000">h = 150 km</text>
<path d="M1718.3 147.1H1765.9" stroke="#008000" stroke-width="3.3" fill="none"/>
<text x="1770.9" y="157.7" font-size="31.95" text-anchor="start" fill="#000">h = 175 km</text>
<path d="M1718.3 184.65H1765.9" stroke="#00ff00" stroke-width="3.3" fill="none"/>
<text x="1770.9" y="195.25" font-size="31.95" text-anchor="start" fill="#000">h = 200 km</text>
<path d="M1718.3 222.2H1765.9" stroke="#00b3b3" stroke-width="3.3" fill="none"/>
<text x="1770.9" y="232.8" font-size="31.95" text-anchor="start" fill="#000">h = 225 km</text>
<path d="M1718.3 259.75H1765.9" stroke="#0000ff" stroke-width="3.3" fill="none"/>
<text x="1770.9" y="270.35" font-size="31.95" text-anchor="start" fill="#000">h = 250 km</text>
<path d="M1718.3 297.3H1765.9" stroke="#000000" stroke-width="3.3" fill="none"/>
<text x="1770.9" y="307.9" font-size="31.95" text-anchor="start" fill="#000">h = 300 km</text>
<path d="M957.74 732.2V1264.5M1287.68 732.2V1264.5M627.8 951.19H1518.3" stroke="#e1e1e1" stroke-width="1.3" fill="none"/>
<path d="M727.12 732.2V1264.5M785.22 732.2V1264.5M826.44 732.2V1264.5M858.42 732.2V1264.5M884.54 732.2V1264.5M906.63 732.2V1264.5M925.77 732.2V1264.5M942.64 732.2V1264.5M1057.06 732.2V1264.5M1115.16 732.2V1264.5M1156.38 732.2V1264.5M1188.36 732.2V1264.5M1214.48 732.2V1264.5M1236.57 732.2V1264.5M1255.71 732.2V1264.5M1272.58 732.2V1264.5M1387 732.2V1264.5M1445.1 732.2V1264.5M1486.33 732.2V1264.5M627.8 1170.19H1518.3M627.8 1115.01H1518.3M627.8 1075.87H1518.3M627.8 1045.51H1518.3M627.8 1020.7H1518.3M627.8 999.72H1518.3M627.8 981.56H1518.3M627.8 965.53H1518.3M627.8 856.88H1518.3M627.8 801.71H1518.3M627.8 762.56H1518.3" stroke="#c6c6c6" stroke-width="1.05" stroke-dasharray="1.5 4.95" fill="none"/>
<path d="M857.6 1264.6L859.8 1251L862.7 1234.9L865.6 1214.4L867.8 1198.3L870.7 1185.1L875.1 1169L881 1150L888.3 1131L894.2 1118.3L901.5 1105L911.7 1091L926.3 1074.2L941 1060.3L957.8 1047.8L976.1 1036.8L992.2 1029.5L1011.2 1022.5L1022.9 1020.7L1037.6 1022.5L1056.1 1027.6L1083.9 1042.5L1116.1 1062.7L1139.5 1076.6L1160 1092L1190.7 1113.2L1201 1121.2L1209.8 1130L1230.3 1146.1L1247.8 1161.5L1266.8 1180.5L1285.6 1198.3" stroke="#000" stroke-width="3.2" fill="none" stroke-linejoin="round" clip-path="url(#clipC)"/>
<path d="M805.6 1264.6L807.1 1251L812.2 1214.4L815.1 1166.1L818.8 1131L820.2 1090L821.3 1061.7L822.4 1020.7L823.9 995.9L826.1 961.3L838.5 918.8L854.6 887.3L869.3 865.4L885.4 844.6L904.4 827.3L926.3 812.7L946.8 802.4L957.8 798.3L984.9 789.3L996.6 787.8L1022.9 787.8L1043.4 790.7L1060.3 795.1L1080 803.2L1095.1 809.3L1114.9 819.2L1140.5 832L1174.2 852.4L1206.3 875.9L1235.6 898.5L1256.1 914.6L1276.6 932.2L1287.6 940.3L1306.1 955.2L1334.1 981.7L1361.9 1008.8L1388.3 1033.7L1411.7 1058.5L1433.7 1082L1452.7 1101L1468.5 1118.2" stroke="#666666" stroke-width="3.2" fill="none" stroke-linejoin="round" clip-path="url(#clipC)"/>
<path d="M857.6 1264.6L859.8 1251L862.7 1234.9L865.6 1214.4L867.8 1198.3L870.7 1185.1L875.1 1169L881 1150L888.3 1131L894.2 1118.3L901.5 1105L911.7 1091L926.3 1074.2L941 1060.3L957.8 1047.8L976.1 1036.8L992.2 1029.5L1011.2 1022.5L1022.9 1020.7L1037.6 1022.5L1056.1 1027.6L1083.9 1042.5L1116.1 1062.7L1139.5 1076.6L1160 1092L1190.7 1113.2L1201 1121.2L1209.8 1130L1230.3 1146.1L1247.8 1161.5L1266.8 1180.5L1285.6 1198.3L1294.1 1208.5L1301.5 1218.8L1308.8 1229.8L1314.6 1240.7L1320.5 1252.4L1326.3 1264.6L1329 1270" stroke="#ff0000" stroke-width="3.2" fill="none" stroke-linejoin="round" stroke-dasharray="12.6 13" clip-path="url(#clipC)"/>
<path d="M806.3 1264.6L808.1 1233.4L810 1207.1L811 1185.1L812.9 1155.9L814.4 1133.9L816.6 1098.8L820.2 1058.8L822.1 1026.6L825.1 1007.6L829 982.7L833.4 957.8L837.8 930L840 917.5L854.6 887.3L869.3 865.4L885.4 844.6L904.4 827.3L926.3 812.7L946.8 802.4L957.8 798.3L984.9 789.3L996.6 787.8L1022.9 787.8L1043.4 790.7L1060.3 795.1L1080 803.2L1095.1 809.3L1114.9 819.2L1140.5 832L1174.2 852.4L1206.3 875.9L1235.6 898.5L1256.1 914.6L1276.6 932.2L1287.6 940.3L1306.1 955.2L1334.1 981.7L1361.9 1008.8L1388.3 1033.7L1411.7 1058.5L1433.7 1082L1452.7 1101L1468.5 1118.2L1475.6 1128L1481.5 1138.3L1490.3 1150L1494.7 1160.2L1501.2 1173.4L1507.2 1187.5" stroke="#0000ff" stroke-width="3.2" fill="none" stroke-linejoin="round" stroke-dasharray="12.6 13" clip-path="url(#clipC)"/>
<path d="M727.12 1264.5v-4.9M727.12 732.2v4.9M785.22 1264.5v-4.9M785.22 732.2v4.9M826.44 1264.5v-4.9M826.44 732.2v4.9M858.42 1264.5v-4.9M858.42 732.2v4.9M884.54 1264.5v-4.9M884.54 732.2v4.9M906.63 1264.5v-4.9M906.63 732.2v4.9M925.77 1264.5v-4.9M925.77 732.2v4.9M942.64 1264.5v-4.9M942.64 732.2v4.9M1057.06 1264.5v-4.9M1057.06 732.2v4.9M1115.16 1264.5v-4.9M1115.16 732.2v4.9M1156.38 1264.5v-4.9M1156.38 732.2v4.9M1188.36 1264.5v-4.9M1188.36 732.2v4.9M1214.48 1264.5v-4.9M1214.48 732.2v4.9M1236.57 1264.5v-4.9M1236.57 732.2v4.9M1255.71 1264.5v-4.9M1255.71 732.2v4.9M1272.58 1264.5v-4.9M1272.58 732.2v4.9M1387 1264.5v-4.9M1387 732.2v4.9M1445.1 1264.5v-4.9M1445.1 732.2v4.9M1486.33 1264.5v-4.9M1486.33 732.2v4.9M627.8 1170.19h4.9M1518.3 1170.19h-4.9M627.8 1115.01h4.9M1518.3 1115.01h-4.9M627.8 1075.87h4.9M1518.3 1075.87h-4.9M627.8 1045.51h4.9M1518.3 1045.51h-4.9M627.8 1020.7h4.9M1518.3 1020.7h-4.9M627.8 999.72h4.9M1518.3 999.72h-4.9M627.8 981.56h4.9M1518.3 981.56h-4.9M627.8 965.53h4.9M1518.3 965.53h-4.9M627.8 856.88h4.9M1518.3 856.88h-4.9M627.8 801.71h4.9M1518.3 801.71h-4.9M627.8 762.56h4.9M1518.3 762.56h-4.9" stroke="#262626" stroke-width="1" fill="none"/>
<path d="M627.8 1264.5v-9.3M627.8 732.2v9.3M957.74 1264.5v-9.3M957.74 732.2v9.3M1287.68 1264.5v-9.3M1287.68 732.2v9.3M627.8 1264.5h9.3M1518.3 1264.5h-9.3M627.8 951.19h9.3M1518.3 951.19h-9.3" stroke="#262626" stroke-width="1" fill="none"/>
<rect x="627.8" y="732.2" width="890.5" height="532.3" stroke="#262626" stroke-width="1" fill="none"/>
<text x="627" y="1318.6" font-size="36" text-anchor="middle" fill="#262626">10<tspan font-size="29.16" dx="0.6" dy="-18">1</tspan></text>
<text x="956.94" y="1318.6" font-size="36" text-anchor="middle" fill="#262626">10<tspan font-size="29.16" dx="0.6" dy="-18">2</tspan></text>
<text x="1286.88" y="1318.6" font-size="36" text-anchor="middle" fill="#262626">10<tspan font-size="29.16" dx="0.6" dy="-18">3</tspan></text>
<text x="617.5" y="1282.9" font-size="36" text-anchor="end" fill="#262626">10<tspan font-size="29.16" dx="0.6" dy="-18">-19</tspan></text>
<text x="617.5" y="969.59" font-size="36" text-anchor="end" fill="#262626">10<tspan font-size="29.16" dx="0.6" dy="-18">-18</tspan></text>
<text x="1073.05" y="1363.5" font-size="39.15" text-anchor="middle" fill="#262626">Energy [eV]</text>
<text transform="translate(522.9 998.9) rotate(-90)" font-size="39" text-anchor="middle" fill="#262626">Cross section [cm<tspan font-size="31.2" dx="0.6" dy="-19">2</tspan><tspan dy="19">]</tspan></text>
<text x="671.2" y="771" font-size="32" text-anchor="start" fill="#000">c: Emission cross section</text>
<path d="M1255 773.2H1302.8" stroke="#000" stroke-width="3.2" fill="none"/>
<text x="1307.6" y="779.6" font-size="32.25" fill="#000">e-CO<tspan font-size="25.16" dx="0.8" dy="15">2</tspan></text>
<path d="M1255 818.3H1302.8" stroke="#666666" stroke-width="3.2" fill="none"/>
<text x="1307.6" y="829.5" font-size="32.25" text-anchor="start" fill="#000">e-CO</text>
<path d="M1255 863.2H1302.8" stroke="#ff0000" stroke-width="3.2" fill="none" stroke-dasharray="13 13"/>
<text x="1307.6" y="869.1" font-size="32.25" fill="#000">Interp. e-CO<tspan font-size="25.16" dx="0.8" dy="15">2</tspan></text>
<path d="M1255 907.7H1302.8" stroke="#0000ff" stroke-width="3.2" fill="none" stroke-dasharray="13 13"/>
<text x="1307.6" y="918.9" font-size="32.25" text-anchor="start" fill="#000">Interp. e-CO</text>
</svg></body></html>
